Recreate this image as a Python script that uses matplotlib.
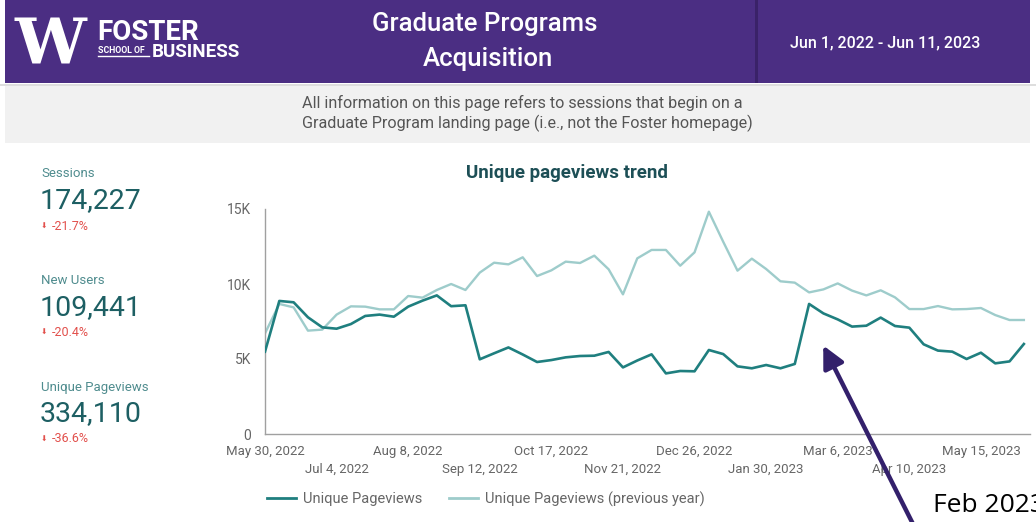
import numpy as np
import matplotlib
matplotlib.use("Agg")
import matplotlib.pyplot as plt
from matplotlib.patches import Rectangle, FancyArrowPatch
from matplotlib.lines import Line2D

W, H = 1036, 522
plt.rcParams['font.family'] = ['Roboto', 'DejaVu Sans']

# weekly unique pageviews, week starting May 30, 2022
week_start = np.datetime64('2022-05-30')
unique_pageviews = [5490, 8870, 8780, 7780, 7110, 7020, 7330, 7870, 7960, 7820,
                    8490, 8890, 9240, 8520, 8580, 4980, 5380, 5770, 5300, 4800,
                    4930, 5110, 5200, 5220, 5470, 4440, 4900, 5310, 4040, 4200,
                    4180, 5600, 5330, 4510, 4380, 4600, 4380, 4670, 8670, 8040,
                    7640, 7160, 7220, 7760, 7200, 7090, 5980, 5560, 5490, 5000,
                    5420, 4710, 4840, 6000]
unique_pageviews_prev = [6710, 8670, 8440, 6890, 6960, 7960, 8510, 8490, 8310, 8310,
                         9200, 9090, 9600, 10000, 9600, 10760, 11420, 11310, 11780, 10530,
                         10910, 11490, 11400, 11890, 10980, 9310, 11710, 12270, 12270, 11220,
                         12110, 14820, 12820, 10890, 11690, 11000, 10180, 10090, 9440, 9640,
                         10040, 9560, 9240, 9580, 9110, 8330, 8330, 8530, 8310, 8330,
                         8400, 7930, 7600, 7600]

kpi_names = ["Sessions", "New Users", "Unique Pageviews"]
kpi_values = ["174,227", "109,441", "334,110"]
kpi_changes = ["-21.7%", "-20.4%", "-36.6%"]

tick_dates = ['2022-05-30', '2022-07-04', '2022-08-08', '2022-09-12', '2022-10-17',
              '2022-11-21', '2022-12-26', '2023-01-30', '2023-03-06', '2023-04-10',
              '2023-05-15']
tick_labels = ["May 30, 2022", "Jul 4, 2022", "Aug 8, 2022", "Sep 12, 2022",
               "Oct 17, 2022", "Nov 21, 2022", "Dec 26, 2022", "Jan 30, 2023",
               "Mar 6, 2023", "Apr 10, 2023", "May 15, 2023"]

purple = "#4b2e83"
dark = "#1f7f7f"
light = "#9ecccb"


def fx(px):
    return px / W


def fy(py):
    return 1 - py / H


def box(x0, y0, x1, y1, color, z=0):
    fig.add_artist(Rectangle((fx(x0), fy(y1)), fx(x1) - fx(x0), fy(y0) - fy(y1),
                             transform=fig.transFigure, color=color, lw=0, zorder=z))


fig = plt.figure(figsize=(W / 100, H / 100), dpi=100)
fig.patch.set_facecolor("white")

# header band
box(0, 84, W, 86, "#dedede")
box(5, 0, 1030, 83, purple)
box(755, 0, 758, 83, "#3a2268")
box(5, 86, 1030, 143, "#f1f1f1")

# logo
fig.text(fx(15), fy(65), "W", color="white", family="DejaVu Serif", weight="bold",
         fontsize=46, ha="left", va="baseline")
fig.text(fx(97), fy(40), "FOSTER", color="white", weight="bold", fontsize=20,
         ha="left", va="baseline")
fig.text(fx(98), fy(53), "SCHOOL OF", color="white", weight="bold", fontsize=6.3,
         ha="left", va="baseline")
fig.add_artist(Line2D([fx(98), fx(149)], [fy(56), fy(56)], color="white", lw=1,
                      transform=fig.transFigure))
fig.text(fx(152), fy(57), "BUSINESS", color="white", weight="bold", fontsize=13.5,
         ha="left", va="baseline")

fig.text(fx(485), fy(24), "Graduate Programs", color="white", fontsize=18.5,
         weight="medium", ha="center", va="center")
fig.text(fx(488), fy(59), "Acquisition", color="white", fontsize=18.5,
         weight="medium", ha="center", va="center")
fig.text(fx(885), fy(43), "Jun 1, 2022 - Jun 11, 2023", color="white", fontsize=11.5,
         weight="medium", ha="center", va="center")

fig.text(fx(522), fy(103), "All information on this page refers to sessions that begin on a",
         color="#555555", fontsize=11.6, ha="center", va="center")
fig.text(fx(527), fy(123), "Graduate Program landing page (i.e., not the Foster homepage)",
         color="#555555", fontsize=11.6, ha="center", va="center")

# scorecards
for i, (name, val, chg) in enumerate(zip(kpi_names, kpi_values, kpi_changes)):
    y0 = 174 + i * 106.5
    fig.text(fx(41), fy(y0), name, color="#4f8c8e", fontsize=9.5, ha="left", va="center")
    fig.text(fx(40), fy(y0 + 27), val, color="#1d5f63", fontsize=20.5, ha="left", va="center")
    fig.text(fx(41), fy(y0 + 52), "⬇", color="#e2504c", fontsize=5.5, ha="left",
             va="center", family=["DejaVu Sans"])
    fig.text(fx(52), fy(y0 + 52), chg, color="#e2504c", fontsize=9, ha="left", va="center")

# trend chart
ax = fig.add_axes([fx(265), fy(434), fx(1030) - fx(265), fy(209) - fy(434)])
weeks = week_start + np.arange(len(unique_pageviews)) * np.timedelta64(7, 'D')
ax.plot(weeks, unique_pageviews_prev, color=light, lw=1.7, solid_joinstyle="round",
        label="Unique Pageviews (previous year)", zorder=2)
ax.plot(weeks, unique_pageviews, color=dark, lw=1.9, solid_joinstyle="round",
        label="Unique Pageviews", zorder=3)

ax.set_xlim(np.datetime64('2022-05-30'), np.datetime64('2023-06-08'))
ax.set_ylim(0, 15000)
ax.set_yticks([0, 5000, 10000, 15000])
ax.set_yticklabels(["0", "5K", "10K", "15K"])
ax.set_xticks(np.array(tick_dates, dtype='datetime64[D]'))
ax.set_xticklabels([lab if k % 2 == 0 else "\n" + lab for k, lab in enumerate(tick_labels)],
                   linespacing=1.45)
ax.tick_params(length=0, colors="#666666", labelsize=9.5)
ax.tick_params(axis="y", pad=10, labelsize=10)
ax.tick_params(axis="x", pad=8)
for s in ["top", "right"]:
    ax.spines[s].set_visible(False)
for s in ["left", "bottom"]:
    ax.spines[s].set_color("#a0a0a0")
    ax.spines[s].set_linewidth(1.0)
ax.set_facecolor("none")

fig.text(fx(567), fy(173), "Unique pageviews trend", color="#1d4f56", weight="bold",
         fontsize=13.5, ha="center", va="center")

handles = [Line2D([], [], color=dark, lw=2), Line2D([], [], color=light, lw=2)]
fig.legend(handles, ["Unique Pageviews", "Unique Pageviews (previous year)"],
           loc="center", bbox_to_anchor=(fx(486), fy(499)), ncol=2, frameon=False,
           fontsize=10.5, labelcolor="#666666", handlelength=2.0, handletextpad=0.5,
           columnspacing=1.8)

# callout
fig.add_artist(FancyArrowPatch((fx(916), fy(530)), (fx(822), fy(343)),
                               transform=fig.transFigure,
                               arrowstyle="-|>,head_length=0.6,head_width=0.3",
                               mutation_scale=22, color="#33206b", lw=3.2, zorder=5))
fig.text(fx(933), fy(505), "Feb 2023", color="black", fontsize=19,
         family=["Open Sans", "DejaVu Sans"], ha="left", va="center")

fig.savefig("out.png", dpi=100)
